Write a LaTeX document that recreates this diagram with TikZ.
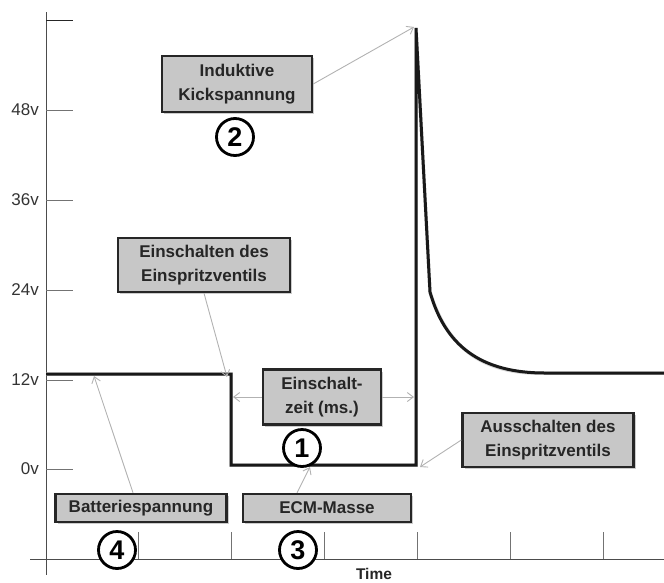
\documentclass[tikz,border=0pt]{standalone}
\usepackage{fontspec}
\setmainfont{Liberation Sans}
\usetikzlibrary{arrows.meta,shadows}

\begin{document}
\begin{tikzpicture}[x=1pt,y=-1pt,
  axisline/.style={draw=black!70, line width=1pt},
  tickline/.style={draw=black!55, line width=1pt},
  ticklabel/.style={anchor=east, inner sep=0pt, font=\fontsize{17}{20}\selectfont, text=black!80},
  signal/.style={draw=black!90, line width=3pt, line join=miter},
  labelbox/.style={draw=black!85, line width=2.4pt, fill=black!22, inner sep=0pt,
    align=center, font=\bfseries\fontsize{17}{24}\selectfont, text=black!85,
    drop shadow={shadow xshift=2pt, shadow yshift=-2pt, opacity=0.2, fill=black}},
  pointer/.style={draw=black!30, line width=0.9pt, -{Straight Barb[length=6pt,width=9pt]}},
  stepnum/.style={circle, draw=black, line width=2.8pt, fill=white, minimum size=37pt,
    inner sep=0pt, font=\bfseries\fontsize{27}{27}\selectfont},
]
\useasboundingbox (0,0) rectangle (664,582);

% axes
\draw[axisline] (46,12) -- (46,575);
\draw[axisline] (30,559) -- (664,559);

% voltage ticks
\draw[tickline, draw=black!85] (46,20) -- (73,20);
\foreach \y/\t in {110/48v, 200/36v, 290/24v, 380/12v, 469/0v}{
  \draw[tickline] (46,\y) -- (73,\y);
  \node[ticklabel] at (39,\y) {\t};
}
% time ticks
\foreach \x in {138,231,324,417,510,603}
  \draw[tickline] (\x,532) -- (\x,559);
\node[anchor=base, inner sep=0pt, font=\bfseries\fontsize{15.5}{18}\selectfont, text=black!85]
  (time) at (374,579) {Time};

% key points of the injector voltage trace
\coordinate (start) at (46,374);
\coordinate (on) at (231,374);
\coordinate (onlow) at (231,465);
\coordinate (offlow) at (416,465);
\coordinate (peak) at (416,28);
\coordinate (fall) at (430,292);
\coordinate (settle) at (545,373);
\coordinate (endpt) at (664,373);

% soft shadow of the trace
\draw[signal, draw=black!15, line width=3.5pt, xshift=2pt, yshift=-2pt]
  (start) -- (on) -- (onlow) -- (offlow) -- (peak) -- (fall)
  .. controls (445,345) and (480,373) .. (settle) -- (endpt);
% the trace
\draw[signal]
  (start) -- (on) -- (onlow) -- (offlow) -- (peak) -- (fall)
  .. controls (445,345) and (480,373) .. (settle) -- (endpt);

% labels
\node[labelbox, minimum width=150pt, minimum height=56pt] (kick) at (237,84)
  {Induktive\\Kickspannung};
\node[labelbox, minimum width=172pt, minimum height=54pt] (einon) at (204,265)
  {Einschalten des\\Einspritzventils};
\node[labelbox, minimum width=118pt, minimum height=55pt] (dwell) at (322,397)
  {Einschalt-\\zeit (ms.)};
\node[labelbox, minimum width=171pt, minimum height=54pt] (einoff) at (548,440)
  {Ausschalten des\\Einspritzventils};
\node[labelbox, minimum width=171pt, minimum height=28pt] (batt) at (141,508)
  {Batteriespannung};
\node[labelbox, minimum width=168pt, minimum height=28pt] (ecm) at (327,508)
  {ECM-Masse};

% numbered markers
\node[stepnum] (n2) at (235,137) {2};
\node[stepnum] (n1) at (302,448) {1};
\node[stepnum] (n4) at (117,550) {4};
\node[stepnum] (n3) at (298,550) {3};

% pointers
\coordinate (bat12) at (94,376);
\coordinate (gnd) at (310,467);
\draw[pointer] (kick.east) -- ([xshift=-2pt,yshift=1pt]peak);
\draw[pointer] (einon.south) -- ([xshift=-4pt,yshift=-3pt]on);
\draw[pointer] (dwell.west) -- ([xshift=2pt]dwell.west -| on);
\draw[pointer] (dwell.east) -- ([xshift=-2pt]dwell.east -| offlow);
\draw[pointer] (einoff.west) -- ([xshift=4pt,yshift=-2pt]offlow);
\draw[pointer] ([xshift=-8pt]batt.north) -- (bat12);
\draw[pointer] ([xshift=-30pt]ecm.north) -- (gnd);
\end{tikzpicture}
\end{document}
